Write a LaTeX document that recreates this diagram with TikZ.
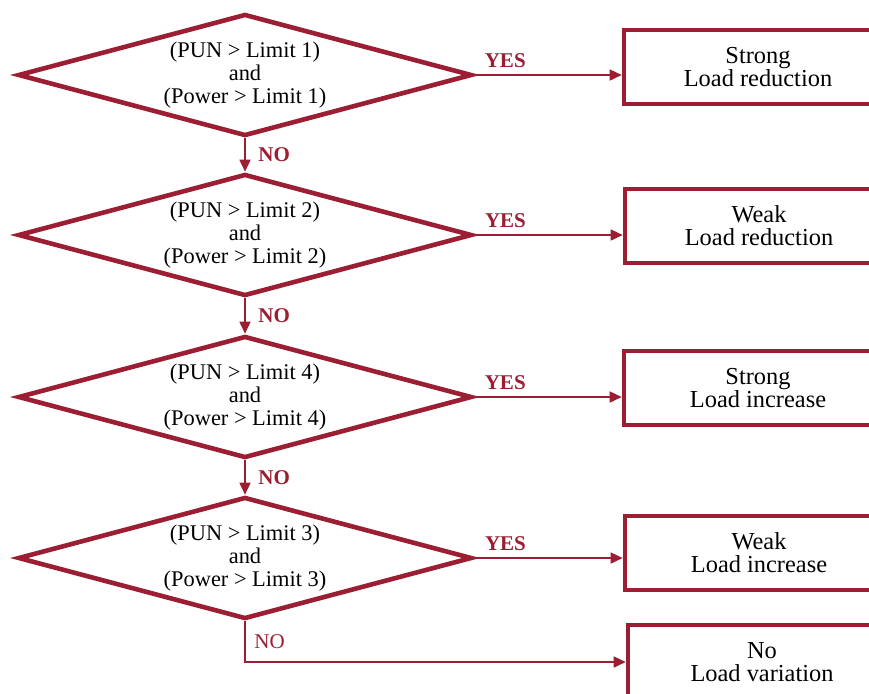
\documentclass[tikz,border=0pt]{standalone}
\usepackage{fontspec}
\setmainfont{Liberation Serif}
\usetikzlibrary{shapes.geometric,arrows.meta,positioning}
\definecolor{wine}{RGB}{155,30,50}

\begin{document}
\begin{tikzpicture}[x=0.5pt, y=-0.5pt, line join=miter,
    cond/.style={diamond, aspect=3.7, draw=wine, line width=2.3pt, minimum width=227pt,
        minimum height=61pt, inner sep=0pt, align=center,
        font=\fontsize{11.2}{11.5}\selectfont},
    result/.style={rectangle, draw=wine, line width=2.3pt, minimum width=134pt,
        minimum height=37pt, align=center, font=\fontsize{12.2}{11.5}\selectfont},
    flow/.style={draw=wine, line width=0.8pt, -{Triangle[length=6pt,width=5.5pt]}},
    answer/.style={font=\bfseries\fontsize{10.5}{12}\selectfont, text=wine}]

    % Rahmen des Bildes
    \useasboundingbox (0,0) rectangle (869,693);
    \clip (0,0) rectangle (869,693);

    % Entscheidungen
    \node[cond] (d1) at (245,75)  {(PUN > Limit 1)\\and\\(Power > Limit 1)};
    \node[cond] (d2) at (245,235) {(PUN > Limit 2)\\and\\(Power > Limit 2)};
    \node[cond] (d3) at (245,397) {(PUN > Limit 4)\\and\\(Power > Limit 4)};
    \node[cond] (d4) at (245,558) {(PUN > Limit 3)\\and\\(Power > Limit 3)};

    % Ergebnisse
    \node[result] (b1) at (758,67)  {Strong\\Load reduction};
    \node[result] (b2) at (759,226) {Weak\\Load reduction};
    \node[result] (b3) at (758,388) {Strong\\Load increase};
    \node[result] (b4) at (759,553) {Weak\\Load increase};
    \node[result] (b5) at (762,662) {No\\Load variation};

    % YES-Pfeile
    \draw[flow] (d1.east) -- (d1.east -| b1.west) node[pos=0.21, above, answer] {YES};
    \draw[flow] (d2.east) -- (d2.east -| b2.west) node[pos=0.21, above, answer] {YES};
    \draw[flow] (d3.east) -- (d3.east -| b3.west) node[pos=0.21, above, answer] {YES};
    \draw[flow] (d4.east) -- (d4.east -| b4.west) node[pos=0.21, above, answer] {YES};

    % NO-Pfeile
    \draw[flow] (d1.south) -- (d2.north) node[midway, right=3pt, answer] {NO};
    \draw[flow] (d2.south) -- (d3.north) node[midway, right=3pt, answer] {NO};
    \draw[flow] (d3.south) -- (d4.north) node[midway, right=3pt, answer] {NO};
    \draw[flow] (d4.south) |- (b5.west)
        node[pos=0.25, right=1pt, text=wine, font=\fontsize{10.5}{12}\selectfont] {NO};
\end{tikzpicture}
\end{document}
